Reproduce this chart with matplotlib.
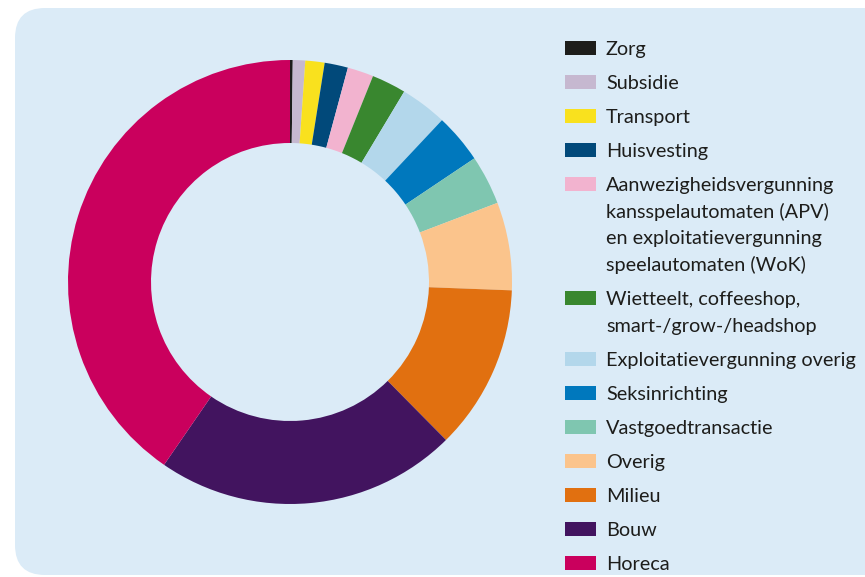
import matplotlib.pyplot as plt
from matplotlib.patches import FancyBboxPatch, Rectangle

# categorieen (met de klok mee, vanaf boven)
labels = [
    "Zorg",
    "Subsidie",
    "Transport",
    "Huisvesting",
    "Aanwezigheidsvergunning\nkansspelautomaten (APV)\nen exploitatievergunning\nspeelautomaten (WoK)",
    "Wietteelt, coffeeshop,\nsmart-/grow-/headshop",
    "Exploitatievergunning overig",
    "Seksinrichting",
    "Vastgoedtransactie",
    "Overig",
    "Milieu",
    "Bouw",
    "Horeca",
]
values = [0.2, 0.9, 1.4, 1.7, 1.9, 2.5, 3.4, 3.6, 3.6, 6.4, 12.0, 22.0, 40.4]
colors = ["#1d1d1b", "#c6b8d0", "#f9e11e", "#01497a", "#f2b3cf", "#39872f",
          "#b3d7eb", "#0078bd", "#7fc6b0", "#fbc48c", "#e17010", "#42145f",
          "#ca005d"]

W, H = 865, 577
fig = plt.figure(figsize=(W / 100, H / 100), dpi=100)
fig.patch.set_facecolor("white")

# achtergrondpaneel in pixels
bg = fig.add_axes([0, 0, 1, 1])
bg.set_xlim(0, W)
bg.set_ylim(H, 0)
bg.axis("off")
bg.add_patch(FancyBboxPatch((15, 8), 900, 567,
                            boxstyle="round,pad=0,rounding_size=30",
                            fc="#dbebf7", ec="none"))

# donut
cx, cy, R = 290, 282, 222
ax = fig.add_axes([(cx - R) / W, (H - cy - R) / H, 2 * R / W, 2 * R / H])
ax.pie(values, colors=colors, startangle=90, counterclock=False,
       radius=1, wedgeprops=dict(width=83 / 222, linewidth=0))
ax.set_xlim(-1, 1)
ax.set_ylim(-1, 1)
ax.set_aspect("equal")
ax.axis("off")

# legenda
y = 48
for lab, col in zip(labels, colors):
    bg.add_patch(Rectangle((565, y - 7), 31, 14, fc=col, ec="none"))
    for i, line in enumerate(lab.split("\n")):
        bg.text(606, y + 7 + i * 26.7, line, fontsize=14.3, family="Lato",
                color="#1d1d1b", va="baseline", ha="left")
    y += 34 + 26.7 * lab.count("\n")

fig.savefig("out.png", dpi=100)
